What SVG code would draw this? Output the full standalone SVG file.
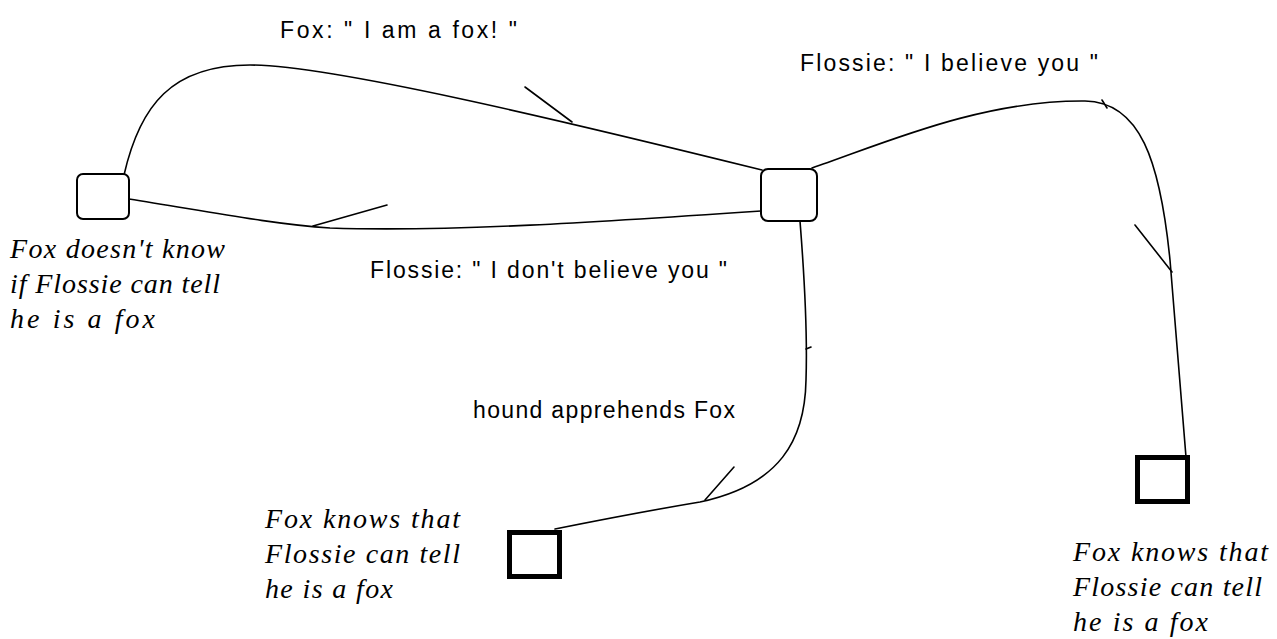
<svg xmlns="http://www.w3.org/2000/svg" width="1277" height="639" viewBox="0 0 1277 639">
<style>
.bg{fill:#fff}
.n{fill:#fff;stroke:#000;stroke-width:2}
.t{fill:#fff;stroke:#000;stroke-width:5}
.c{fill:none;stroke:#000;stroke-width:1.6;stroke-linecap:round}
.s{font-family:"Liberation Sans",Arial,sans-serif;font-size:23px;fill:#000}
.i{font-family:"Liberation Serif","Times New Roman",serif;font-style:italic;font-size:28px;fill:#000}
</style>
<rect class="bg" x="0" y="0" width="1277" height="639"/>
<g id="connectors">
<path class="c" d="M124,175 C140,105 172,65 250,65 C330,65 560,120 762,170"/>
<path class="c" d="M525,87 L572,122"/>
<path class="c" d="M129,199 C200,210 270,224 330,228 C450,232 600,222 761,211"/>
<path class="c" d="M313,226 L387,205"/>
<path class="c" d="M812,168 C880,145 980,100 1085,101 C1140,102 1160,160 1170,260 L1186,457"/>
<path class="c" d="M1102,100 L1107,108"/>
<path class="c" d="M1135,225 L1172,272"/>
<path class="c" d="M800,221 C803,260 808,320 806,380 C805,440 780,485 700,502 C640,512 590,522 555,529"/>
<path class="c" d="M806,349 L811,347"/>
<path class="c" d="M734,467 L705,500"/>
</g>
<g id="node1"><rect class="n" x="77" y="174" width="52" height="45" rx="6"/></g>
<g id="node2"><rect class="n" x="761" y="169" width="56" height="52" rx="7"/></g>
<g id="node3"><rect class="t" x="509.5" y="532.5" width="50" height="44"/></g>
<g id="node4"><rect class="t" x="1137.5" y="457.5" width="50" height="44"/></g>
<g id="labels">
<text class="s" x="280" y="38" textLength="237">Fox: " I am a fox! "</text>
<text class="s" x="800" y="71" textLength="298">Flossie: " I believe you "</text>
<text class="s" x="370" y="278" textLength="357">Flossie: " I don't believe you "</text>
<text class="s" x="473" y="418" textLength="262">hound apprehends Fox</text>
<text class="i" x="10" y="258" textLength="215">Fox doesn't know</text>
<text class="i" x="10" y="293" textLength="210">if Flossie can tell</text>
<text class="i" x="10" y="328" textLength="145">he is a fox</text>
<text class="i" x="265" y="528" textLength="195">Fox knows that</text>
<text class="i" x="265" y="563" textLength="195">Flossie can tell</text>
<text class="i" x="265" y="598" textLength="128">he is a fox</text>
<text class="i" x="1073" y="561" textLength="195">Fox knows that</text>
<text class="i" x="1073" y="596" textLength="189">Flossie can tell</text>
<text class="i" x="1073" y="631" textLength="135">he is a fox</text>
</g>
</svg>
